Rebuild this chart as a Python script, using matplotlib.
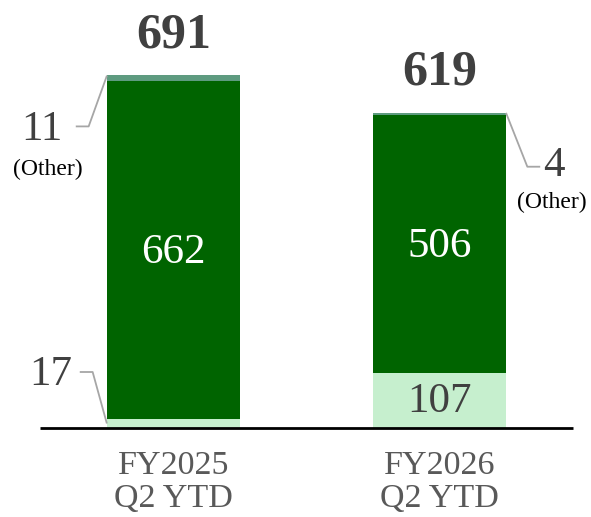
import matplotlib
matplotlib.use("Agg")
import matplotlib.pyplot as plt

categories = ["FY2025\nQ2 YTD", "FY2026\nQ2 YTD"]
bottom_vals = [17, 107]
main_vals = [662, 506]
other_vals = [11, 4]
totals = [691, 619]

c_light = "#c6efce"
c_dark = "#006400"
c_other = "#5e9b80"
c_text = "#404040"
c_tick = "#595959"
c_lead = "#a6a6a6"

plt.rcParams['font.family'] = ['Liberation Serif', 'DejaVu Serif']

W, H = 591, 517
fig = plt.figure(figsize=(W / 100, H / 100), dpi=100)
ax = fig.add_axes([40 / W, 89 / H, 533 / W, 428 / H])
ppu = 0.511  # pixels per unit
ax.set_xlim(-0.5, 1.5)
ax.set_ylim(0, 428 / ppu)
ax.axis('off')

x = [0, 1]
w = 0.5
mid = [b + m for b, m in zip(bottom_vals, main_vals)]
top = [b + m + o for b, m, o in zip(bottom_vals, main_vals, other_vals)]
ax.bar(x, bottom_vals, w, color=c_light, edgecolor='none')
ax.bar(x, main_vals, w, bottom=bottom_vals, color=c_dark, edgecolor='none')
ax.bar(x, other_vals, w, bottom=mid, color=c_other, edgecolor='none')

ax.plot([-0.5, 1.5], [0, 0], color='black', lw=2, clip_on=False, solid_capstyle='butt')

# totals
for xi, t, tp in zip(x, totals, top):
    ax.text(xi, tp + 78, str(t), ha='center', va='center', fontsize=36,
            fontweight='bold', color=c_text)

# main values
for xi, b, m in zip(x, bottom_vals, main_vals):
    ax.text(xi, b + m / 2 - 6, str(m), ha='center', va='center', fontsize=31, color='white')

# bottom value inside bar 2
ax.text(x[1], bottom_vals[1] / 2 - 2, str(bottom_vals[1]), ha='center', va='center',
        fontsize=31, color=c_text)

# categories
for xi, c in zip(x, categories):
    ax.text(xi, -106, c, ha='center', va='center', fontsize=24.5, color=c_tick,
            linespacing=1.1, clip_on=False)

# leader lines
dx = 1 / 267
dy = 1 / ppu
# bar 1 other
x0 = x[0] - w / 2
ax.plot([x0, x0 - 18 * dx, x0 - 30 * dx], [top[0] - 2, top[0] - 51 * dy, top[0] - 51 * dy],
        color=c_lead, lw=1.3, clip_on=False)
ax.text(x0 - 44 * dx, top[0] - 54 * dy, str(other_vals[0]), ha='right', va='center',
        fontsize=31, color=c_text)
ax.text(x0 - 59 * dx, top[0] - 94 * dy, "(Other)", ha='center', va='center',
        fontsize=17, color='black')
# bar 1 bottom
ax.plot([x0, x0 - 14 * dx, x0 - 26 * dx], [bottom_vals[0] / 2 + 2, 56 / ppu, 56 / ppu],
        color=c_lead, lw=1.3, clip_on=False)
ax.text(x0 - 34 * dx, 53 / ppu, str(bottom_vals[0]), ha='right', va='center',
        fontsize=31, color=c_text)
# bar 2 other
x1 = x[1] + w / 2
ax.plot([x1, x1 + 21 * dx, x1 + 33 * dx], [top[1] - 2, top[1] - 54 * dy, top[1] - 54 * dy],
        color=c_lead, lw=1.3, clip_on=False)
ax.text(x1 + 37 * dx, top[1] - 53 * dy, str(other_vals[1]), ha='left', va='center',
        fontsize=31, color=c_text)
ax.text(x1 + 46 * dx, top[1] - 90 * dy, "(Other)", ha='center', va='center',
        fontsize=17, color='black')

fig.savefig("out.png", dpi=100)
